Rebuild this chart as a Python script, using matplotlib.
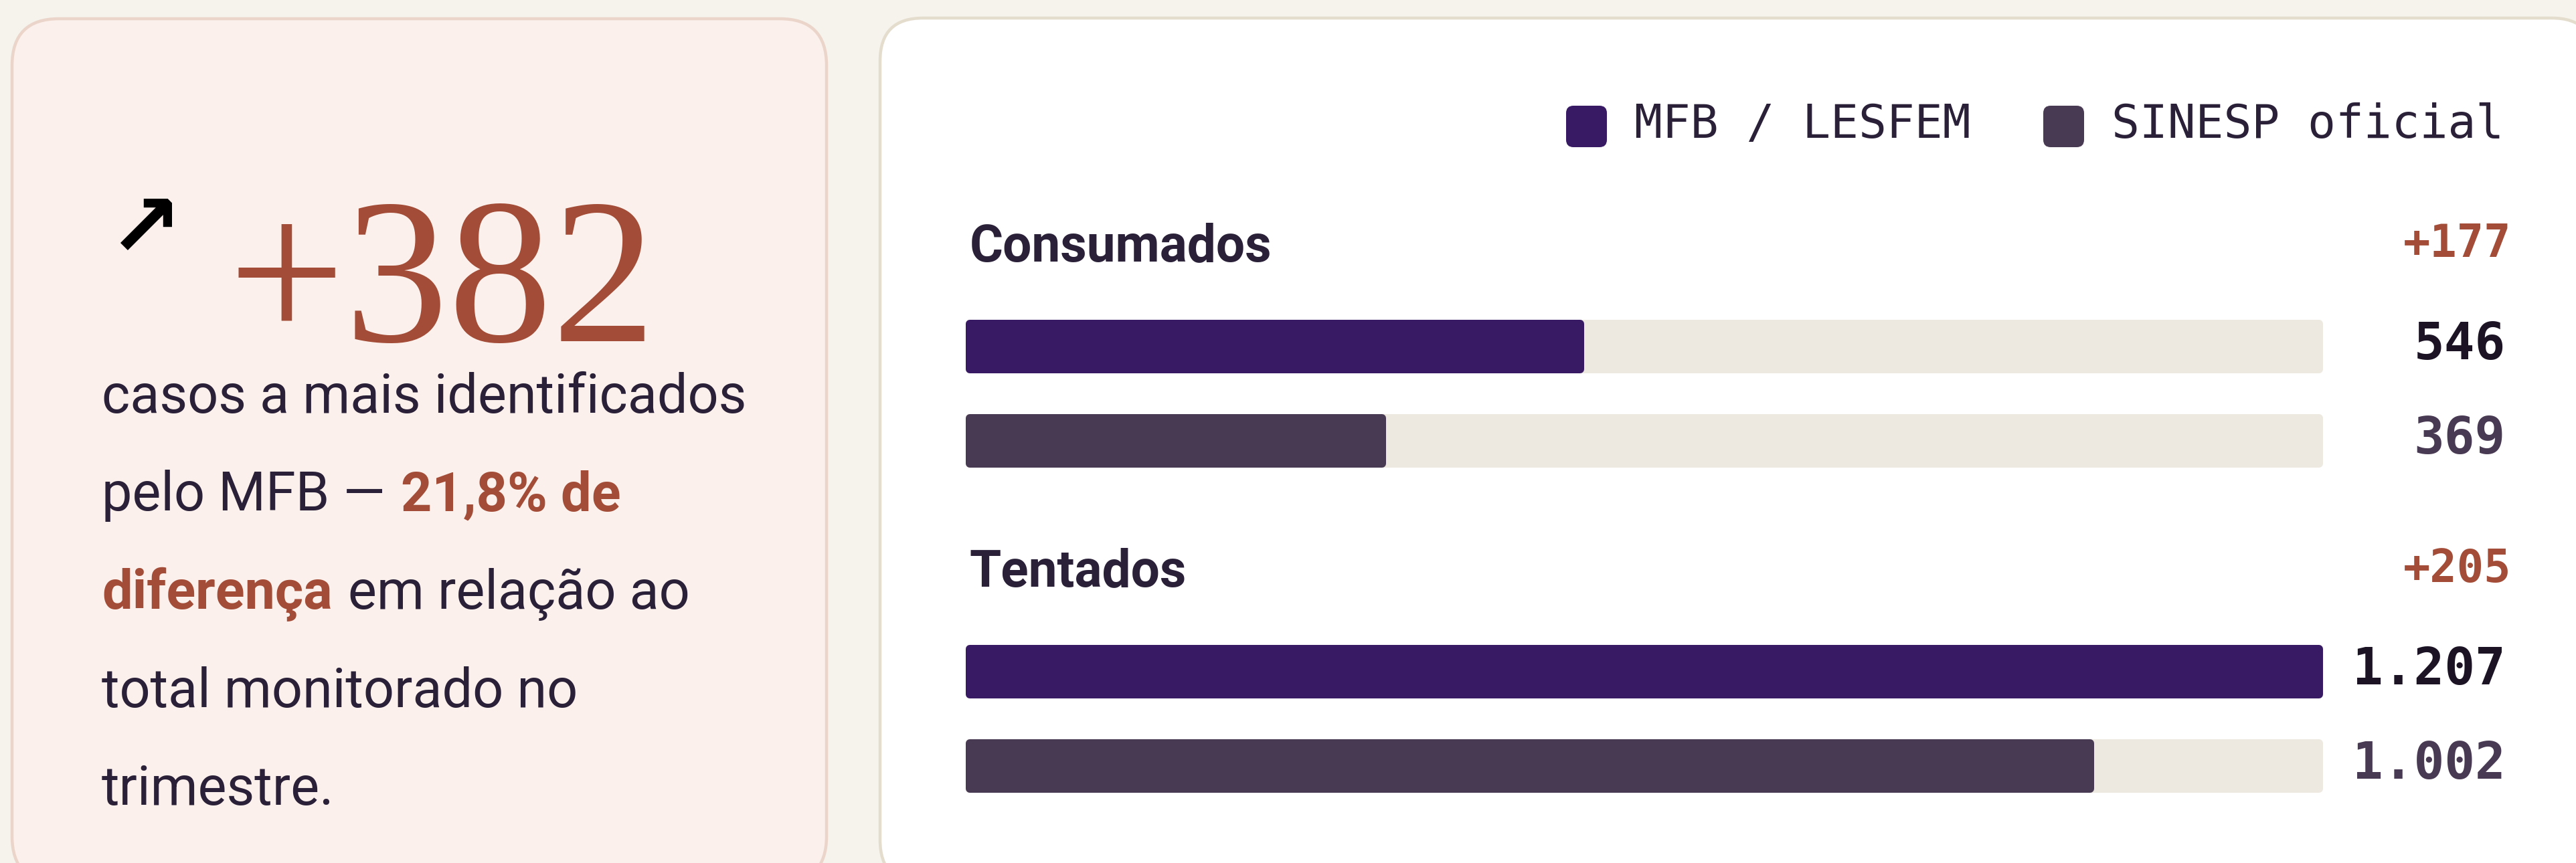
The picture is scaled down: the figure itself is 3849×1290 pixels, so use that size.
import numpy as np
import matplotlib.pyplot as plt
from matplotlib.patches import FancyBboxPatch

#%% Data
categories = ['Consumados', 'Tentados']
series = ['MFB / LESFEM', 'SINESP oficial']
mfb = [546, 1207]
sinesp = [369, 1002]

#%% Style / layout
W, H, DPI = 3849, 1290, 100
BG = '#F5F3EC'
CARD_L, CARD_L_EDGE = '#FBF0EB', '#EBD4CA'
CARD_R_EDGE = '#E4DCCD'
RED = '#A34C37'
INK = '#2A2138'
VAL_INK = '#1C1424'
COLORS = ['#371A63', '#483A52']
TRACK = '#EDE9E0'
SANS = 'Roboto'
MONO = 'DejaVu Sans Mono'


def pt(px):
    # pixel size -> points at this dpi
    return px * 72 / DPI


def fmt(v):
    return f'{v:,}'.replace(',', '.')


diff = [m - s for m, s in zip(mfb, sinesp)]
total_diff = sum(diff)
pct = total_diff / sum(mfb) * 100

fig = plt.figure(figsize=(W / DPI, H / DPI), dpi=DPI, facecolor=BG)
bg = fig.add_axes([0, 0, 1, 1])
bg.set_xlim(0, W)
bg.set_ylim(H, 0)
bg.axis('off')

# cards
bg.add_patch(FancyBboxPatch((18, 28), 1217, 1292, boxstyle='round,pad=0,rounding_size=70',
                            fc=CARD_L, ec=CARD_L_EDGE, lw=pt(4.5)))
bg.add_patch(FancyBboxPatch((1315, 27), 2562, 1293, boxstyle='round,pad=0,rounding_size=64',
                            fc='white', ec=CARD_R_EDGE, lw=pt(4.5)))

#%% Left card: headline number + sentence
bg.text(216, 346, '\u2197', fontsize=pt(132), family='DejaVu Sans', fontweight='bold',
        color='black', ha='center', va='center')
bg.text(340, 510, f'+{total_diff}', fontsize=pt(310), family='Liberation Serif',
        color=RED, va='baseline')

pct_txt = f'{pct:.1f}% de'.replace('.', ',')
body = [[('casos a mais identificados', False)],
        [('pelo MFB \u2014', False), (pct_txt, True)],
        [('diferen\u00e7a', True), ('em rela\u00e7\u00e3o ao', False)],
        [('total monitorado no', False)],
        [('trimestre.', False)]]
body_px = 81
renderer = fig.canvas.get_renderer()


def width_of(s, bold):
    t = bg.text(0, 0, s, fontsize=pt(body_px), family=SANS,
                fontweight='bold' if bold else 'normal')
    w = t.get_window_extent(renderer).width
    t.remove()
    return w


space = width_of('a a', False) - width_of('aa', False)
for i, line in enumerate(body):
    x = 152
    y = 617 + i * 146.5
    for s, bold in line:
        t = bg.text(x, y, s, fontsize=pt(body_px), family=SANS,
                    fontweight='bold' if bold else 'normal',
                    color=RED if bold else INK, va='baseline')
        x += t.get_window_extent(renderer).width + space * 1.15

#%% Right card: legend
leg_x = [2340, 3053]
for name, c, x in zip(series, COLORS, leg_x):
    bg.add_patch(FancyBboxPatch((x, 158), 61, 62, boxstyle='round,pad=0,rounding_size=11',
                                fc=c, ec='none'))
    bg.text(x + 102, 206, name, fontsize=pt(69.5), family=MONO, color=INK, va='baseline')

#%% Bars
lw_px = 12
bx0, bx1 = 1443, 3471
bax = fig.add_axes([(bx0 + lw_px / 2) / W, 0, (bx1 - bx0 - lw_px) / W, 1])
bax.set_xlim(0, max(mfb + sinesp))
bax.set_ylim(H, 0)
bax.axis('off')
bax.patch.set_alpha(0)

track = max(mfb + sinesp)
for g, cat in enumerate(categories):
    title_y = 390 + g * 486
    bg.text(1449, title_y, cat, fontsize=pt(76.5), family=SANS, fontweight='bold',
            color=INK, va='baseline')
    bg.text(3752, title_y - 6, f'+{diff[g]}', fontsize=pt(67), family=MONO,
            fontweight='bold', color=RED, ha='right', va='baseline')
    for j, (vals, c) in enumerate(zip([mfb, sinesp], COLORS)):
        y = title_y + 127.5 + j * 141
        bax.barh(y, track, height=80 - lw_px, color=TRACK, ec=TRACK, lw=pt(lw_px),
                 joinstyle='round', clip_on=False)
        bax.barh(y, vals[g], height=80 - lw_px, color=c, ec=c, lw=pt(lw_px),
                 joinstyle='round', clip_on=False)
        bg.text(3744, y + 19.5, fmt(vals[g]), fontsize=pt(76), family=MONO,
                fontweight='bold', color=VAL_INK if j == 0 else COLORS[1],
                ha='right', va='baseline')

fig.savefig('out.png', dpi=DPI, facecolor=BG)
